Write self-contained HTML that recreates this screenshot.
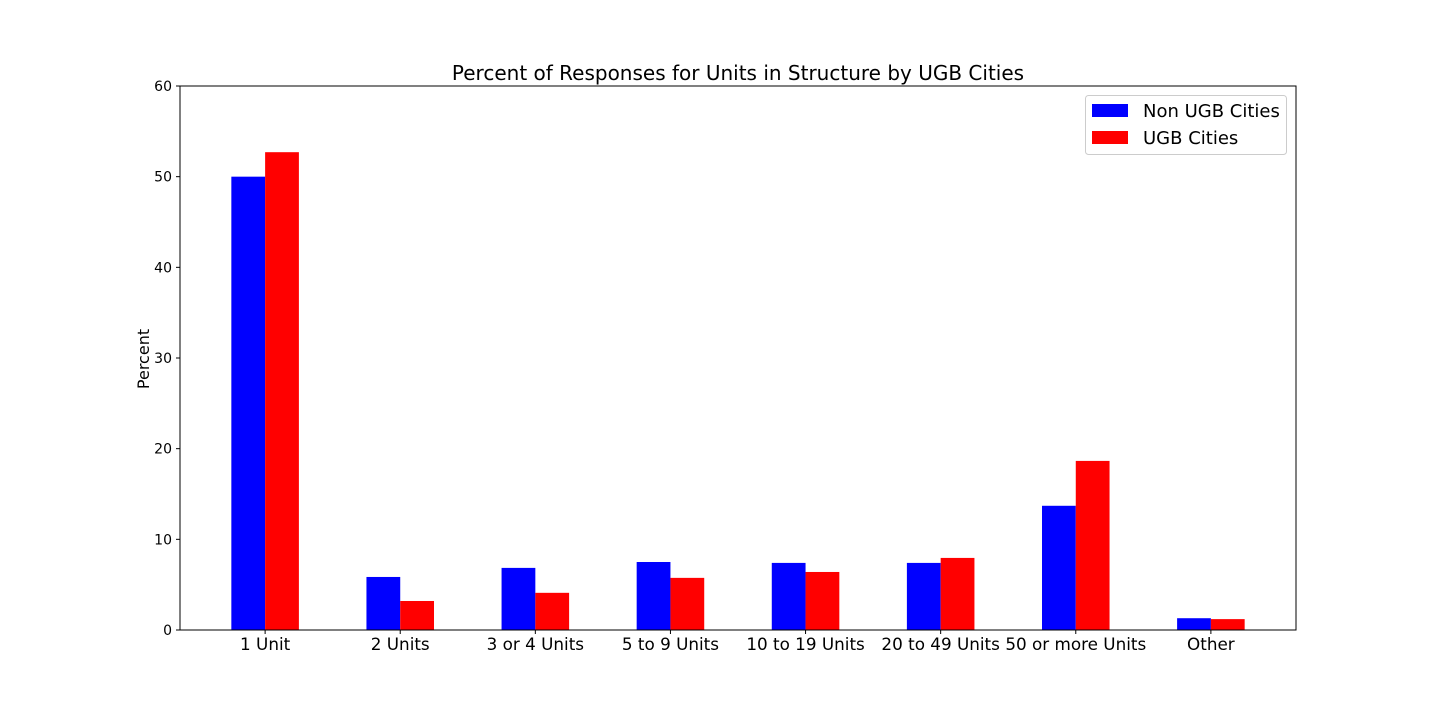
<!DOCTYPE html>
<html><head><meta charset="utf-8"><style>
body{margin:0;background:#fff;}
svg text{font-family:"DejaVu Sans","Liberation Sans",sans-serif;fill:#000;}
</style></head><body>
<svg id="chart" width="1440" height="720" xmlns="http://www.w3.org/2000/svg">
<rect width="1440" height="720" fill="#fff"/>
<text x="738" y="80" font-size="20" text-anchor="middle">Percent of Responses for Units in Structure by UGB Cities</text>
<g id="bars"></g>
<g id="axes"></g>
<text transform="translate(149,359) rotate(-90)" font-size="16" text-anchor="middle">Percent</text>
<rect x="180" y="86" width="1116" height="544" fill="none" stroke="#000" stroke-width="1"/>
<g>
<rect x="1085.5" y="95.5" width="201" height="59" rx="3" fill="#fff" stroke="#ccc"/>
<g>
<rect x="1092" y="104" width="36" height="13" fill="#0000ff"/>
<text x="1143" y="117" font-size="18">Non UGB Cities</text></g>
<g>
<rect x="1092" y="131" width="36" height="13" fill="#ff0000"/>
<text x="1143" y="144" font-size="18">UGB Cities</text></g>
</g>
</svg>
<script>
const categories=["1 Unit","2 Units","3 or 4 Units","5 to 9 Units","10 to 19 Units","20 to 49 Units","50 or more Units","Other"];
const nonUgb=[50.0,5.85,6.85,7.5,7.4,7.4,13.7,1.3];
const ugb=[52.7,3.2,4.1,5.75,6.4,7.95,18.65,1.2];
const yTicks=[0,10,20,30,40,50,60];
const NS="http://www.w3.org/2000/svg";
const L=180,R=1296,T=86,B=630;
const xMin=-0.63,xMax=7.63;
function xs(v){return L+(v-xMin)/(xMax-xMin)*(R-L);}
function ys(v){return B-v/60*(B-T);}
const bars=document.getElementById('bars'),axes=document.getElementById('axes');
function mk(tag,attrs,parent){const e=document.createElementNS(NS,tag);for(const k in attrs)e.setAttribute(k,attrs[k]);parent.appendChild(e);return e;}
const w=0.25;
categories.forEach((c,i)=>{
  [[nonUgb,'#0000ff',-1,'non-ugb'],[ugb,'#ff0000',0,'ugb']].forEach(([arr,col,off,nm])=>{
    const x0=xs(i+off*w),x1=xs(i+(off+1)*w);
    const r=mk('rect',{x:x0,y:ys(arr[i]),width:x1-x0,height:ys(0)-ys(arr[i]),fill:col},bars);
    
    
  });
  const t=mk('line',{x1:xs(i),x2:xs(i),y1:B,y2:B+4,stroke:'#000'},axes);
  
  
  const tx=mk('text',{x:xs(i),y:B+20,'font-size':16.8,'text-anchor':'middle'},axes);
  tx.textContent=c;
  
  
});
yTicks.forEach(v=>{
  const t=mk('line',{x1:L-4,x2:L,y1:ys(v),y2:ys(v),stroke:'#000'},axes);
  
  
  const tx=mk('text',{x:L-8,y:ys(v)+5,'font-size':14,'text-anchor':'end'},axes);
  tx.textContent=v;
  
  
});
</script>
</body></html>
